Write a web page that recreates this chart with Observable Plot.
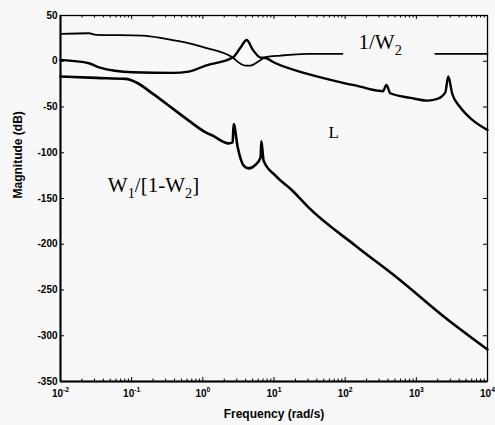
<!DOCTYPE html>
<html>
<head>
<meta charset="utf-8">
<script src="https://cdn.jsdelivr.net/npm/d3@7"></script>
<script src="https://cdn.jsdelivr.net/npm/@observablehq/plot@0.6"></script>
<style>
  html, body { margin: 0; padding: 0; background: #f8f8f8; }
</style>
</head>
<body>
<div id="chart"></div>
<script>
// ---- data ----
// 1/W2 (null marks the gap left for its label)
const freqW2 = [0.01, 0.0251, 0.0316, 0.1435, 0.302, 0.459, 1.096, 2.624, 3.396, 3.98, 4.68, 6.08, 7.62, 12.3, 29.5, 91.6, 95, 1845, 10000];
const magW2  = [30.0, 30.6, 28.9, 28.1, 24.5, 21.9, 14.7, 4.0, -2.8, -4.7, -4.7, 0, 4.4, 6.2, 8.1, 8.1, null, 8.1, 8.1];

// L
const freqL = [0.01, 0.0251, 0.0347, 0.104, 0.378, 0.634, 1.096, 2.624, 3.396, 4.13, 5.01, 6.46, 7.62, 9.86, 29.5, 87.1, 162, 282, 339, 380, 431, 824, 1426, 1972, 2553, 2812, 3199, 4140, 6310, 10000];
const magL  = [1.5, -2.2, -6.6, -12.0, -12.7, -11.3, -4.7, 4.0, 15.0, 23.2, 12.8, 4.0, 3.5, -1.1, -13.8, -23.0, -27.7, -32.1, -32.8, -25.8, -35.0, -40.0, -43.0, -41.1, -33.9, -16.7, -35.7, -50.3, -64.9, -75.1];

// W1/[1-W2]
const freqC = [0.01, 0.0316, 0.0832, 0.115, 0.1995, 0.378, 0.634, 1.096, 1.377, 2.307, 2.624, 2.71, 3.09, 3.75, 4.41, 5.52, 6.49, 6.64, 7.14, 10.5, 18.2, 30.5, 139.6, 560, 2553, 10000];
const magC  = [-16.7, -18.2, -19.3, -23.0, -35.7, -51.8, -64.9, -77.7, -81.3, -89.7, -88.6, -68.5, -94.1, -114.1, -117.1, -113.0, -105.0, -87.5, -108.6, -125.1, -141.5, -159.7, -201.6, -237.7, -280.4, -315.1];

// curve labels
const labelText = ["W_{1}/[1-W_{2}]", "1/W_{2}", "L"];
const labelFreq = [0.0463, 154, 58.3];
const labelMag  = [-136, 20.5, -78];

// ticks
const xMajor = [0.01, 0.1, 1, 10, 100, 1000, 10000];
const xTickLabels = ["10^{-2}", "10^{-1}", "10^{0}", "10^{1}", "10^{2}", "10^{3}", "10^{4}"];
const yTicks = [50, 0, -50, -100, -150, -200, -250, -300, -350];
const xLabel = "Frequency (rad/s)";
const yLabel = "Magnitude (dB)";

// ---- build ----
const toRows = (fs, ms) => fs.map((f, i) => ({f, m: ms[i]}));
const w2Rows = toRows(freqW2, magW2);
const lRows = toRows(freqL, magL);
const cRows = toRows(freqC, magC);
const xMinor = xMajor.slice(0, -1).flatMap(d => [2,3,4,5,6,7,8,9].map(k => k * d));

const W = 495, H = 425, mL = 60, mR = 8, mT = 15, mB = 44;
const plotW = W - mL - mR, plotH = H - mT - mB;

const svg = Plot.plot({
  width: W, height: H,
  marginLeft: mL, marginRight: mR, marginTop: mT, marginBottom: mB,
  x: {type: "log", domain: [0.01, 10000]},
  y: {domain: [-350, 50]},
  style: {background: "#f8f8f8", color: "black", fontFamily: "'Liberation Sans', Arial, sans-serif", fontSize: "10px", fontWeight: "bold"},
  marks: [
    // inward ticks
    Plot.tickX(xMajor, {x: d => d, insetTop: plotH - 4, stroke: "black"}),
    Plot.tickX(xMajor, {x: d => d, insetBottom: plotH - 4, stroke: "black"}),
    Plot.tickX(xMinor, {x: d => d, insetTop: plotH - 2.5, stroke: "black"}),
    Plot.tickX(xMinor, {x: d => d, insetBottom: plotH - 2.5, stroke: "black"}),
    Plot.tickY(yTicks, {y: d => d, insetRight: plotW - 4, stroke: "black"}),
    Plot.tickY(yTicks, {y: d => d, insetLeft: plotW - 4, stroke: "black"}),
    Plot.frame({stroke: "black", strokeWidth: 1.3}),
    Plot.ruleX([0.01], {stroke: "black", strokeWidth: 2}),
    Plot.ruleY([-350], {stroke: "black", strokeWidth: 2}),
    Plot.axisY({ticks: yTicks, tickSize: 0, tickPadding: 3, tickFormat: d => String(d), label: null}),
    Plot.axisX({ticks: xMajor, tickSize: 0, tickPadding: 8, tickFormat: (d, i) => xTickLabels[xMajor.indexOf(d)], label: null}),
    Plot.text([yLabel], {text: d => d, frameAnchor: "left", rotate: -90, dx: -42, fontSize: 12, fontWeight: "bold"}),
    Plot.text([xLabel], {text: d => d, frameAnchor: "bottom", dy: 36, fontSize: 12, fontWeight: "bold"}),
    // curves
    Plot.line(w2Rows, {x: "f", y: "m", stroke: "black", strokeWidth: 1.8, curve: "monotone-x"}),
    Plot.line(lRows, {x: "f", y: "m", stroke: "black", strokeWidth: 2.4, curve: "monotone-x"}),
    Plot.line(cRows, {x: "f", y: "m", stroke: "black", strokeWidth: 2.6, curve: "monotone-x"}),
    Plot.text(labelText, {x: (d, i) => labelFreq[i], y: (d, i) => labelMag[i], text: d => d, textAnchor: "start",
      fontFamily: "'Liberation Serif', 'Times New Roman', serif", fontWeight: "normal", fontSize: (d, i) => i === 2 ? 17 : 21})
  ]
});

document.getElementById("chart").appendChild(svg);

// turn _{..} / ^{..} markers into real sub/superscript tspans
function rich(el) {
  const s = el.textContent;
  const re = /([_^])\{([^}]*)\}/g;
  if (!/[_^]\{/.test(s)) return;
  const base = parseFloat(getComputedStyle(el).fontSize) || 10;
  while (el.firstChild) el.removeChild(el.firstChild);
  const NS = "http://www.w3.org/2000/svg";
  let last = 0, prev = 0, m;
  const add = (txt, size, dy) => {
    const t = document.createElementNS(NS, "tspan");
    if (size) t.setAttribute("font-size", size);
    if (dy) t.setAttribute("dy", dy);
    t.textContent = txt;
    el.appendChild(t);
  };
  while ((m = re.exec(s))) {
    if (m.index > last) { add(s.slice(last, m.index), null, -prev); prev = 0; }
    const shift = m[1] === "_" ? 0.28 * base : -0.5 * base;
    add(m[2], 0.68 * base, shift - prev);
    prev = shift;
    last = re.lastIndex;
  }
  if (last < s.length) add(s.slice(last), null, -prev);
}
svg.querySelectorAll("text").forEach(rich);
</script>
</body>
</html>
